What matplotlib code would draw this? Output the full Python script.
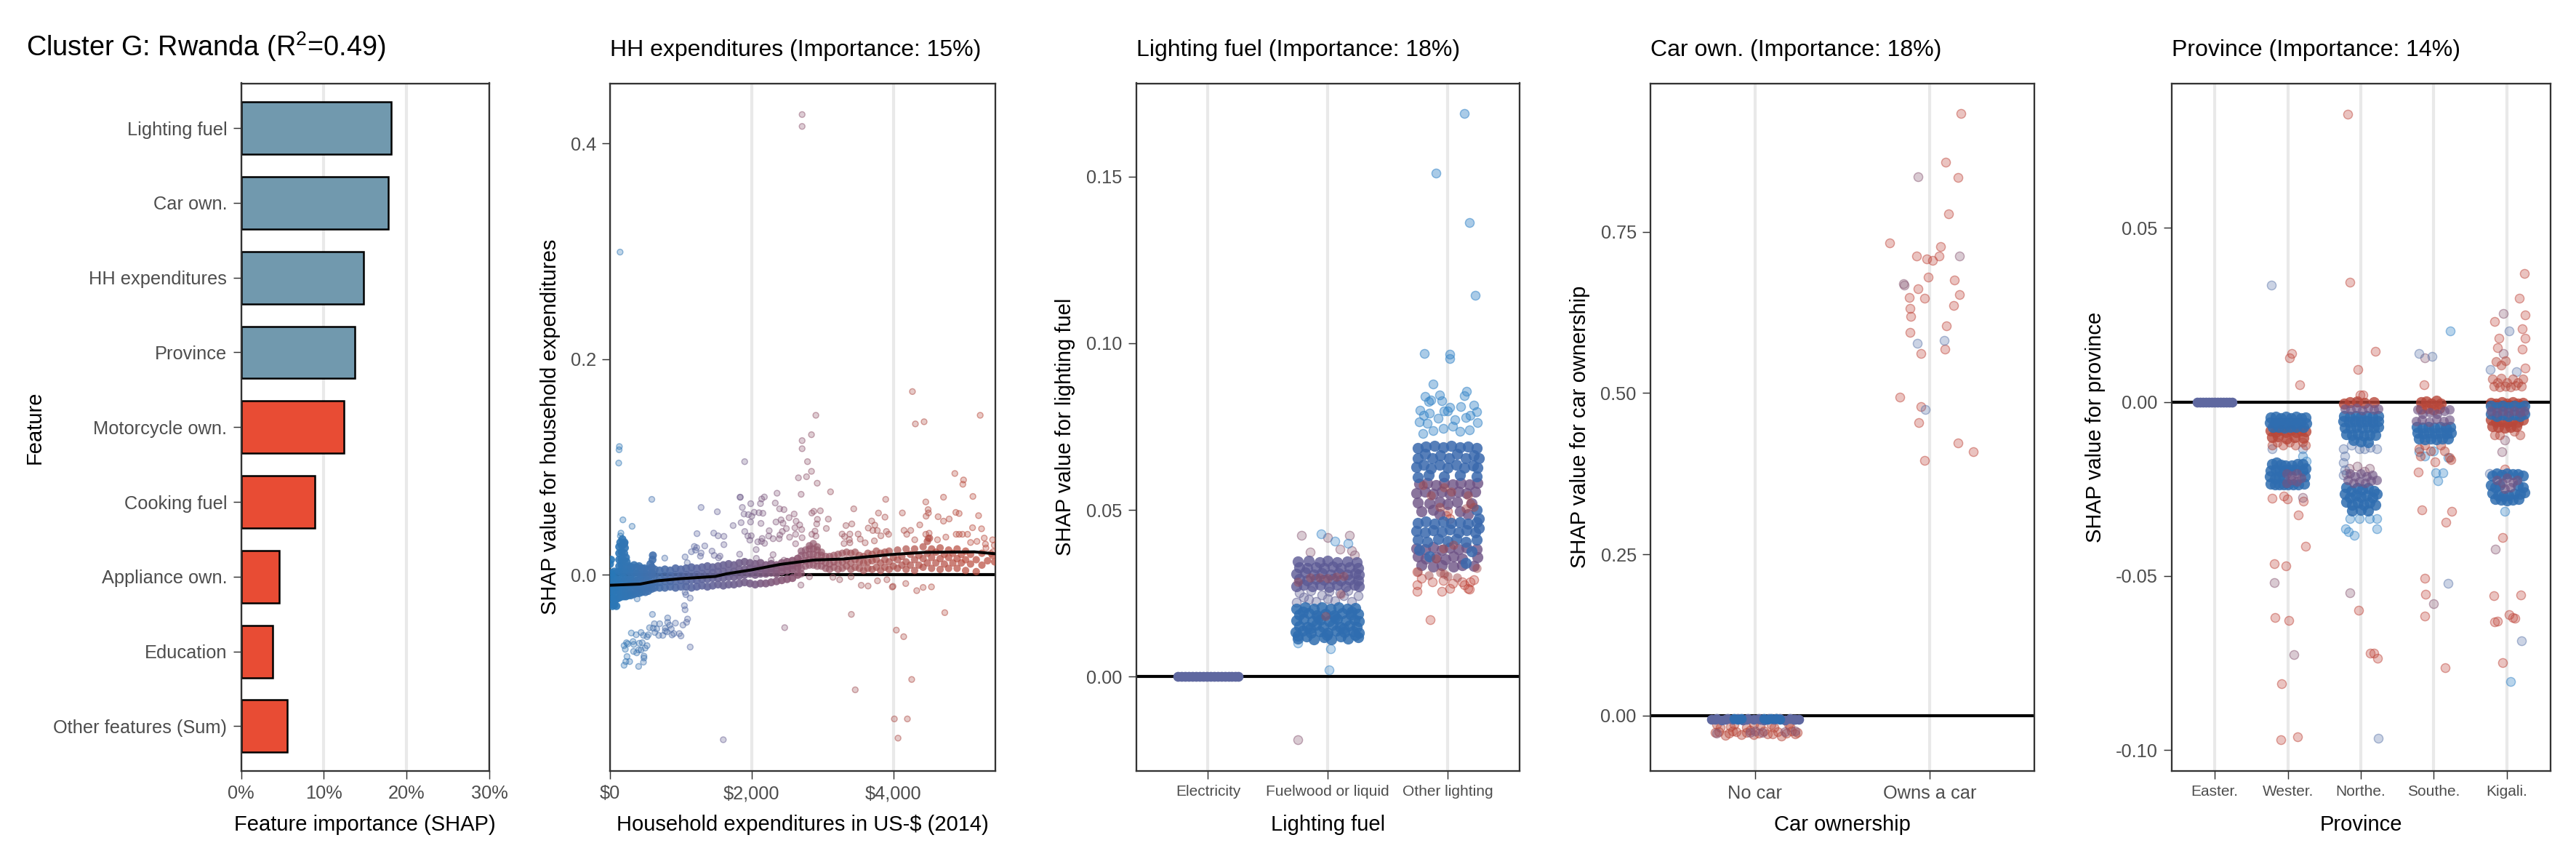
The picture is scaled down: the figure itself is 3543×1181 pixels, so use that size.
import matplotlib
matplotlib.use("Agg")
import matplotlib.pyplot as plt
from matplotlib.colors import LinearSegmentedColormap, to_rgb

plt.rcParams['font.family'] = ['Liberation Sans', 'DejaVu Sans']
plt.rcParams['mathtext.default'] = 'regular'

# ---------- importance bars ----------
features = ["Lighting fuel", "Car own.", "HH expenditures", "Province", "Motorcycle own.",
            "Cooking fuel", "Appliance own.", "Education", "Other features (Sum)"]
importance = [18.15, 17.8, 14.8, 13.75, 12.4, 8.9, 4.6, 3.83, 5.56]
bar_groups = ["top", "top", "top", "top", "rest", "rest", "rest", "rest", "rest"]

# ---------- HH expenditures ----------
smooth_x = [0, 425, 660, 990, 1486, 1651, 2000, 2406, 2877, 3302, 3962, 4434, 5142, 5440]
smooth_y = [-.0097, -.0086, -.0056, -.0036, -.0015, .001, .0046, .0097, .0137, .0147, .0188, .0208, .0213, .0195]

hh_sparse = [
 (2712,.427),(2712,.416),(142,.2994),(132,.119),(128,.116),(123,.1037),(4269,.17),(5226,.148),(2906,.148),
 (4311,.14),(4434,.142),(2712,.1245),(2844,.13),(2712,.117),(2788,.105),(1901,.105),(2844,.096),(2660,.09),
 (2774,.091),(2925,.085),(4868,.094),(4991,.088),(4981,.084),(3113,.077),(2358,.0757),(2698,.0747),(1835,.072),
 (590,.07),(4708,.072),(5123,.0727),(3892,.07),(4458,.0676),(1286,.0625),(1515,.0585),(182,.051),(312,.045),
 (154,.0387),(147,.036),(1228,.0382),(1464,.0387),(1526,.0362),(1608,.0357),(1190,.0263),(1224,.0252),(1338,.0268),
 (1608,.028),(1149,.0214),(1207,.0229),(1286,.0202),(1276,.0173),(1440,.022),(1471,.018),(1553,.0173),(1532,.0157),
 (1060,.0166),(773,.0155),(1091,.0112),(1840,.072),(1868,.0625),(1987,.066),(2124,.0661),(2141,.0704),(2179,.0722),
 (2333,.0666),(2394,.0612),(2456,.0605),(1892,.0564),(1953,.0558),(2001,.0544),(2035,.058),(2104,.0576),(2158,.0571),
 (1738,.0457),(1851,.0484),(1984,.049),(2131,.0477),(1902,.0402),(1946,.036),(1994,.0362),(1974,.0322),(2247,.0409),
 (2240,.036),(2302,.0335),(2388,.0335),(2398,.0369),(2432,.0402),(2490,.0429),(2535,.0349),(2343,.049),(2415,.051),
 (2442,.0479),(2528,.053),(2600,.0564),(2627,.0497),(2678,.0463),(2610,.0436),(2706,.042),(2620,.0376),(2712,.0344),
 (2620,.0288),(2148,.0337),(2086,.0306),(2138,.031),(2182,.0292),(2063,.0234),(1830,.0191),(2066,.0153),(2302,.0187),
 (2275,.0135),(2456,.0135),(2877,.0589),(2849,.0573),(2969,.0594),(2928,.0515),(3082,.0517),(2918,.0472),(2894,.0405),
 (3054,.043),(2849,.0376),(2907,.036),(3441,.0612),(3331,.0457),(3414,.0472),(3277,.0378),(3386,.0378),(3311,.0355),
 (3379,.0326),(3386,.0297),(3304,.029),(3503,.0378),(3533,.0331),(3602,.0297),(3790,.0573),(3694,.0499),(3738,.0461),
 (3646,.0434),(3711,.0411),(3773,.0411),(3824,.0362),(3732,.0315),(3882,.0535),(3902,.0402),(3933,.0376),
 (3407,-.0367),(2466,-.049),(3547,-.0097),(3643,-.0104),(3776,-.0056),(3909,-.0045),(2695,-.0095),(3242,-.0045),
 (3403,-.0018),(3147,-.0023),(2815,-.0018),(3985,-.0113),(3462,-.1067),(4042,-.0513),(4146,-.0574),(4259,-.0971),
 (4014,-.1337),(4198,-.1337),(4066,-.1515),(1599,-.153),(4726,-.0351),(4330,-.0147),(4420,-.0117),(4538,-.0112),
 (4175,-.0081),(3995,-.0107),(4127,.0574),(4462,.0544),(4491,.0605),(4495,.0574),(4632,.0539),(4708,.0498),(4788,.0518),
 (4882,.0579),(4929,.0569),(5203,.0549),(5118,.0437),(5245,.0427),(5283,.0341),(4887,.0376),(4929,.0376),(4976,.0376),
 (5047,.0376),(4245,.0412),(4151,.0412),(4189,.0376),(4302,.0325),(4373,.0463),(4458,.0376),(4505,.0386),(4491,.034),
 (4623,.0325),(4741,.035),(5401,.0325),(5425,.0274),(5307,.0249),(5377,.0198),
 (599,-.0367),(814,-.04),(1095,-.041),(924,-.0448),(814,-.0441),(626,-.0454),(701,-.0454),(842,-.0468),(1081,-.0441),
 (1030,-.0466),(558,-.0491),(780,-.0495),(609,-.0495),(660,-.0502),(865,-.0502),(633,-.0535),(688,-.0562),(746,-.0562),
 (301,-.054),(370,-.0556),(438,-.0535),(472,-.0562),(541,-.0556),(523,-.0574),(780,-.0522),(804,-.0529),(900,-.0545),
 (876,-.0558),(978,-.0545),(1002,-.0567),(1132,-.067),(199,-.0657),(250,-.0641),(233,-.063),(325,-.0619),(335,-.0646),
 (414,-.0635),(455,-.063),(523,-.0657),(216,-.0691),(496,-.068),(332,-.0711),(404,-.0697),(438,-.0697),(377,-.0724),
 (479,-.0754),(240,-.0758),(479,-.0772),(223,-.0805),(277,-.0805),(472,-.081),(199,-.0839),(404,-.085),(383,-.0223),
 (1060,-.0162),(1071,-.0184),(1132,-.0216),(1050,-.0286),(1060,-.0324),(5410,.0215),(5300,.0285),(5180,.031),(5090,.03),
]

rib_x = [630,700,775,850,925,1000,1075,1150,1225,1300,1375,1450,1525,1600,1675,1750,1825,1900,1975,2050,2125,2200,2275,2350,2425,2500,2575,2650]
rib_a = [.005,.004,.005,.004,.006,.005,.006,.007,.006,.007,.008,.007,.008,.009,.010,.009,.011,.012,.011,.010,.011,.009,.010,.009,.011,.012,.013,.015]
rib_b = [-.0005,-.002,-.001,-.001,0,-.001,0,.001,0,.001,.002,.002,.003,.003,.004,.003,.005,.005,.006,.005,.006,.005,.006,.005,.007,.008,.009,.011]
rib_c = [-.007,-.007,-.006,-.006,-.006,-.005,-.006,-.005,-.005,-.004,-.004,-.003,-.003,-.003,-.002,-.002,-.001,0,.001,0,.001,.001,.002,.001,.003,.004,.005,.007]
rib_d = [-.012,-.012,-.012,-.011,-.012,-.011,-.011,-.012,-.011,-.010,-.011,-.010,-.009,-.010,-.009,-.009,-.008,-.007,-.008,-.009,-.008,-.008,-.007,-.006,-.005,-.004,-.003,0]

hh_left = [
 (10,-.027),(35,-.029),(60,-.028),(90,-.029),(15,-.021),(45,-.022),(75,-.023),(105,-.022),(135,-.021),(165,-.02),(195,-.02),
 (10,-.015),(40,-.016),(70,-.015),(100,-.016),(130,-.015),(160,-.016),(190,-.014),(225,-.017),(260,-.016),(295,-.017),(330,-.015),
 (15,-.01),(50,-.009),(85,-.011),(120,-.01),(155,-.009),(190,-.01),(225,-.011),(260,-.01),(295,-.009),(330,-.01),(365,-.011),(400,-.012),
 (10,-.004),(45,-.003),(80,-.004),(115,-.005),(150,-.004),(185,-.003),(220,-.004),(255,-.005),(290,-.004),(325,-.005),(360,-.006),(395,-.005),(430,-.004),(470,-.006),(510,-.005),(550,-.006),(590,-.008),
 (20,.002),(60,.003),(95,.002),(130,.003),(165,.002),(200,.003),(235,.002),(270,.003),(305,.001),(340,.002),(375,.001),(410,.002),(445,.0),(480,.001),(520,.0),(555,-.001),(595,.0),
 (15,.014),(130,.008),(165,.009),(200,.008),(235,.007),(270,.008),(305,.007),(340,.009),(375,.007),(410,.008),(450,.006),(490,.006),(530,.005),(570,.01),(600,.014),(605,.018),(590,.007),(590,.002),
 (130,.014),(165,.014),(200,.013),(235,.012),(130,.02),(165,.021),(200,.02),(225,.016),(130,.026),(170,.027),(210,.025),(145,.03),(200,.029),(175,.033),(205,.03),(-0,.01),(15,-.0),
 (470,-.011),(510,-.012),(550,-.011),(430,-.013),(590,-.013),(540,-.015),(500,-.016),(450,-.016),(410,-.017),(370,-.017),(335,-.018),(295,-.019),(260,-.019),(225,-.02),
]
hh_hump = [
 (2700,.001),(2700,.006),(2700,.012),(2700,.018),(2700,.022),(2760,.008),(2760,.013),(2760,.018),(2760,.023),(2815,.009),(2815,.014),
 (2815,.019),(2815,.024),(2815,.027),(2870,.009),(2870,.014),(2870,.019),(2870,.024),(2870,.029),(2925,.008),(2925,.013),(2925,.018),
 (2925,.023),(2925,.026),(2985,.008),(2985,.013),(2985,.018),(2985,.021),(3045,.006),(3045,.011),(3045,.017),(3100,.005),(3100,.01),(3100,.017),
 (3160,.007),(3160,.012),(3160,.018),(3220,.005),(3220,.011),(3220,.019),(3280,.006),(3280,.012),(3280,.02),(3340,.008),(3340,.014),(3340,.021),
 (3400,.005),(3400,.011),(3400,.02),(3460,.007),(3460,.014),(3460,.021),(3520,.006),(3520,.012),(3520,.018),(3580,.004),(3580,.011),(3580,.017),
 (3640,.006),(3640,.012),(3640,.02),(3700,.005),(3700,.013),(3700,.019),(3760,.007),(3760,.014),(3760,.022),(3820,.004),(3820,.011),(3820,.02),
 (3880,.007),(3880,.014),(3880,.021),(3940,.005),(3940,.012),(3940,.022),(4000,.008),(4000,.016),(4060,.006),(4060,.014),(4060,.023),(4120,.009),
 (4120,.017),(4180,.005),(4180,.012),(4180,.024),(4240,.009),(4240,.019),(4300,.004),(4300,.014),(4300,.024),(4360,.009),(4360,.018),(4420,.007),
 (4420,.015),(4420,.026),(4480,.011),(4480,.02),(4480,.031),(4510,.034),(4540,.006),(4540,.016),(4540,.024),(4600,.011),(4600,.021),(4660,.005),
 (4660,.015),(4660,.025),(4720,.01),(4720,.019),(4780,.006),(4780,.016),(4780,.023),(4840,.011),(4840,.02),(4900,.006),(4900,.015),(4900,.024),
 (4960,.011),(4960,.019),(5020,.004),(5020,.014),(5020,.022),(5090,.01),(5090,.019),(5170,.003),(5170,.014),(5250,.009),(5250,.02),(5330,.013),(5400,.018),(5430,.012),
]

# ---------- lighting fuel ----------
light_labels = ["Electricity", "Fuelwood or liquid", "Other lighting"]
light_zero_x = [.75,.78,.81,.84,.87,.9,.93,.96,.99,1.02,1.05,1.08,1.11,1.14,1.17,1.2,1.23,1.25]
light_zero_y = [0,0,0,0,0,0,0,0,0,0,0,0,0,0,0,0,0,0]

fw_blue = [
 (1.75,.0115),(1.82,.012),(1.88,.0112),(1.97,.0118),(2.03,.0113),(2.11,.012),(2.17,.0114),(2.25,.0118),
 (1.73,.0134),(1.79,.0138),(1.86,.0132),(1.93,.0136),(2.0,.0131),(2.07,.0138),(2.14,.0133),(2.21,.0137),(2.26,.0132),
 (1.76,.0152),(1.83,.0149),(1.9,.0155),(1.96,.015),(2.04,.0156),(2.1,.0149),(2.18,.0154),(2.24,.015),
 (1.74,.0168),(1.8,.0172),(1.87,.0167),(1.94,.0171),(2.01,.0166),(2.08,.0172),(2.15,.0168),(2.22,.0171),(2.26,.0167),
 (1.76,.0186),(1.84,.019),(1.91,.0185),(1.98,.0189),(2.05,.0185),(2.12,.019),(2.19,.0186),(2.25,.0189),
 (1.74,.0204),(1.81,.0207),(1.88,.0203),(1.95,.0208),(2.02,.0204),(2.09,.0207),(2.16,.0203),(2.23,.0206),
 (1.75,.0122),(1.85,.0145),(1.99,.0125),(2.13,.0145),(2.23,.0125),(1.92,.0178),(2.06,.0178),(2.2,.0195),(1.79,.0195),
]
fw_mix = [
 (1.74,.0224),(1.8,.0238),(1.9,.0226),(1.95,.0245),(2.06,.0228),(2.13,.0243),(2.2,.0226),(2.25,.0242),(1.76,.0252),(1.86,.0258),
 (2.01,.0255),(2.1,.0252),(2.17,.0258),(1.84,.0232),(2.0,.0235),
]
fw_red = [(1.93,.0298),(2.0,.0295),(2.07,.03),(1.75,.0285),(1.98,.0182),(2.11,.0248),(1.85,.0298),(2.13,.0302)]
fw_purple = [
 (1.74,.0272),(1.8,.0275),(1.87,.0271),(1.94,.0276),(2.01,.027),(2.08,.0275),(2.15,.0272),(2.22,.0276),(2.26,.0271),
 (1.76,.0292),(1.83,.0288),(1.9,.0293),(1.97,.029),(2.04,.0293),(2.11,.0288),(2.18,.0291),(2.25,.0288),
 (1.74,.0308),(1.81,.0312),(1.88,.0307),(1.95,.0311),(2.02,.0306),(2.09,.0311),(2.16,.0307),(2.23,.0311),(2.26,.0306),
 (1.76,.0328),(1.83,.0325),(1.9,.0329),(1.97,.0325),(2.04,.033),(2.11,.0326),(2.18,.0329),(2.25,.0325),
 (1.75,.0345),(1.84,.0347),(1.93,.0343),(2.0,.0347),(2.08,.0344),(2.16,.0346),(2.24,.0343),
]
fw_sparse_blue = [(1.945,.0429),(2.06,.0406),(2.17,.04),(2.01,.0021),(2.02,.0084),(1.75,.01)]
fw_sparse_mid = [(1.78,.0424),(2.0,.0418),(2.18,.0424),(2.1,.0382),(2.2,.0378),(1.85,.0373),(2.22,.0365),(1.75,-.0189)]

ol_blue_sparse = [
 (3.14,.169),(2.905,.151),(3.18,.1363),(3.23,.1145),(2.805,.097),(3.02,.0967),(3.02,.0955),
 (2.88,.0878),(2.93,.0845),(3.16,.0855),(3.14,.0842),(2.81,.084),(2.86,.083),(2.84,.0825),(2.95,.0827),
 (2.77,.08),(3.22,.0815),(3.24,.0795),(2.8,.0785),(2.85,.079),(3.11,.081),(3.0,.0797),(3.02,.0809),(2.97,.0798),
 (2.76,.0765),(2.83,.076),(2.92,.0775),(3.06,.077),(3.15,.0778),(3.19,.0785),(3.25,.0762),(2.79,.073),(2.88,.0738),
 (2.96,.0745),(3.04,.0752),(3.1,.0735),(3.18,.074),
]
ol_blue = [
 (2.75,.0685),(2.82,.069),(2.89,.0692),(2.96,.0688),(3.03,.0693),(3.1,.0689),(3.17,.0691),(3.24,.0686),
 (2.75,.0655),(2.81,.0668),(2.87,.0655),(2.94,.0665),(3.01,.0655),(3.08,.0668),(3.15,.0656),(3.22,.0665),(3.26,.0655),
 (2.74,.0628),(2.8,.0635),(2.86,.0625),(2.93,.0636),(3.0,.0627),(3.07,.0635),(3.14,.0626),(3.21,.0634),(3.25,.0627),
 (2.75,.0598),(2.84,.0605),(2.97,.06),(3.1,.0606),(3.24,.06),
 (2.75,.046),(2.82,.0465),(2.89,.0458),(2.96,.0465),(3.03,.046),(3.1,.0464),(3.17,.0458),(3.24,.0464),
 (2.74,.0438),(2.81,.0432),(2.88,.044),(2.95,.0434),(3.02,.0441),(3.09,.0433),(3.16,.044),(3.23,.0433),(3.26,.0445),
 (2.75,.041),(2.83,.0405),(2.92,.0412),(3.0,.0406),(3.07,.0412),(3.15,.0404),(3.24,.041),
 (3.26,.0475),(3.24,.05),(2.76,.038),(3.2,.0376),(2.85,.036),(3.15,.034),
]
ol_purple = [
 (2.76,.0578),(2.83,.0582),(2.9,.0575),(2.97,.0582),(3.04,.0576),(3.11,.0581),(3.18,.0577),(3.25,.0582),
 (2.74,.055),(2.81,.0555),(2.88,.0548),(2.95,.0554),(3.02,.0548),(3.09,.0555),(3.16,.055),(3.23,.0554),
 (2.75,.0522),(2.85,.052),(2.93,.0525),(3.0,.0518),(3.08,.0525),(3.2,.052),
 (2.78,.0495),(2.88,.05),(2.93,.0488),(3.1,.0495),(3.17,.0488),
 (2.74,.0385),(2.81,.0382),(2.88,.0388),(2.95,.0381),(3.02,.0387),(3.09,.0382),(3.16,.0387),(3.24,.0383),
 (2.75,.036),(2.82,.0355),(2.9,.0358),(2.98,.0352),(3.05,.036),(3.12,.0355),(3.25,.0358),
 (2.78,.0335),(2.88,.033),(2.95,.0335),(3.05,.033),(3.12,.0335),(3.22,.0332),
]
ol_red = [
 (2.79,.0575),(2.86,.0545),(2.97,.0568),(3.17,.0545),(3.22,.051),(3.15,.0505),(3.19,.052),(2.96,.0385),(3.05,.0395),(2.9,.0355),
 (2.94,.0312),(2.97,.0308),(2.84,.0305),(3.0,.0302),(3.08,.0298),(3.24,.0325),(2.75,.0315),(2.93,.051),(3.03,.0555),
]
ol_pink = [
 (2.745,.0315),(2.78,.0295),(2.87,.0285),(2.96,.0288),(3.04,.028),(3.12,.0285),(3.19,.0285),(3.22,.029),
 (2.745,.0275),(2.745,.0255),(2.95,.0255),(3.02,.0265),(3.17,.0265),(3.18,.0262),(3.14,.0275),(2.855,.0171),
 (3.0,.0495),(3.02,.0475),(2.99,.0482),
]

# ---------- car ownership ----------
car_labels = ["No car", "Owns a car"]
car_band = [(.75,-.0055),(.78,-.0045),(.81,-.0065),(.84,-.0048),(.87,-.006),(.9,-.005),(.93,-.0065),(.96,-.0045),(.99,-.006),
 (1.02,-.005),(1.05,-.0065),(1.08,-.0045),(1.11,-.006),(1.14,-.005),(1.17,-.0065),(1.2,-.0048),(1.23,-.006),(1.25,-.0055),
 (.77,-.006),(.83,-.0055),(.95,-.006),(1.03,-.0055),(1.12,-.005),(1.22,-.0055)]
car_band_blue = [(.88,-.0045),(.9,-.0055),(.92,-.0048),(1.05,-.0045),(1.07,-.0055),(1.09,-.0048),(1.12,-.005),(1.14,-.0055)]
car_low = [
 (.77,-.026),(.79,-.025),(.83,-.031),(.85,-.027),(.87,-.024),(.89,-.025),(.92,-.029),(.95,-.026),(.97,-.023),(.99,-.029),(1.02,-.027),
 (1.05,-.024),(1.07,-.028),(1.1,-.028),(1.13,-.025),(1.15,-.032),(1.18,-.027),(1.21,-.024),(1.23,-.028),(1.24,-.026),
 (.8,-.018),(.86,-.017),(.95,-.018),(1.03,-.016),(1.11,-.018),(1.2,-.017),(.78,-.014),(.88,-.014),(.99,-.014),(1.09,-.014),(1.19,-.014),
]
car_low_mid = [(.78,-.027),(.97,-.026),(1.0,-.024),(1.04,-.026),(1.17,-.025),(1.23,-.024)]
car_pink = [(2.18,.933),(2.09,.858),(2.161,.834),(2.11,.778),(1.769,.733),(2.062,.727),(1.923,.712),(1.982,.708),(2.015,.705),
 (2.053,.712),(1.991,.68),(2.143,.675),(1.932,.661),(2.172,.652),(1.883,.648),(1.969,.647),(2.136,.636),(1.886,.631),(1.89,.619),
 (2.094,.604),(1.886,.594),(2.088,.568),(1.952,.561),(1.831,.494),(1.952,.479),(1.936,.4545),(2.161,.423),(2.25,.409),(1.969,.395)]
car_mid = [(1.932,.835),(2.172,.712),(1.85,.67),(1.853,.667)]
car_lilac = [(1.928,.577),(2.083,.582),(1.974,.474)]

# ---------- province ----------
prov_labels = ["Easter.", "Wester.", "Northe.", "Southe.", "Kigali."]
prov_zero_x = [.76,.8,.84,.88,.92,.96,1.0,1.04,1.08,1.12,1.16,1.2,1.24]
prov_zero_y = [0,0,0,0,0,0,0,0,0,0,0,0,0]

prov_pink = [
 (2.159,.005),(1.788,-.0277),(1.947,-.0271),(1.99,-.0279),(2.216,-.0286),(2.146,-.0324),(2.238,-.0415),(1.819,-.0464),(1.969,-.047),
 (1.828,-.062),(2.009,-.0628),(1.916,-.0809),(1.907,-.0971),(2.137,-.0962),(2.057,.014),(2.026,.0127),
 (2.819,.0826),(2.85,.0343),(3.199,.0146),(2.96,.0094),(2.974,-.0598),(3.128,-.0721),(3.177,-.0721),(3.234,-.0737),(3.03,.002),(2.987,.002),
 (3.868,.0049),(3.784,-.0201),(4.013,-.0173),(3.837,-.031),(4.247,-.0315),(4.163,-.0345),(3.876,-.0507),(3.89,-.0552),(3.876,-.0615),(4.155,-.0763),
 (5.238,.0368),(5.172,.0297),(4.828,.0231),(5.247,.025),(5.207,.0209),(4.894,.0183),(5.247,.0183),(4.876,.0156),(5.216,.0151),(5.252,.0098),
 (4.974,-.0194),(4.938,-.039),(4.819,-.0557),(5.19,-.0554),(4.832,-.0631),(4.872,-.063),(5.035,-.0611),(5.084,-.062),(5.11,-.0622),(4.943,-.0749),
]
prov_mid = [
 (2.2,-.0275),(1.819,-.0518),(2.088,-.0726),(2.85,-.0549),(3.996,-.0579),(4.956,.0253),(4.956,.014),(4.845,-.0422),
 (4.93,-.0142),(4.974,-.011),(3.876,.0127),(2.95,.0),(2.8,-.0205),(2.84,-.019),(3.12,-.019),(2.95,-.0185),(3.05,-.02),
]
prov_lilac = [
 (1.77,.0335),(3.238,-.0965),(3.801,.0138),(3.978,.0131),(4.199,-.0522),(5.031,.0203),(4.775,.0094),(5.13,.0087),(5.199,-.0686),
 (2.76,-.0135),(2.78,-.0155),(2.87,-.0125),(2.98,-.0135),(3.05,-.0135),(3.13,-.013),(3.22,-.0135),(2.76,-.0175),(2.78,-.0195),(2.76,-.021),
 (4.76,-.0205),(2.2,-.0135),(1.78,-.0135),(4.85,-.0005),
]
prov_blue_light = [
 (4.225,.0203),(4.022,-.0203),(4.124,-.0203),(4.057,-.0227),(2.788,-.0365),(2.832,-.0373),(2.912,-.0384),(3.22,-.0365),(4.974,-.0315),(5.057,-.0803),
 (2.85,-.0335),(2.98,-.0335),(3.12,-.0335),(3.22,-.0335),(3.8,-.0143),(3.88,-.0155),(4.0,-.014),(4.2,-.016),(2.2,-.0155),(2.25,-.017),
]
prov_red_sparse = [
 (1.78,-.0125),(1.85,-.0115),(1.93,-.0125),(2.02,-.0115),(2.1,-.0125),(2.2,-.0115),(2.24,-.0125),
 (3.8,-.0135),(3.88,-.0125),(3.96,-.014),(4.1,-.0125),(4.15,-.014),(4.22,-.016),(4.24,-.0165),(3.82,-.0155),
 (4.8,.0065),(4.87,.0055),(4.92,.0068),(5.0,.0055),(5.08,.0066),(5.15,.0056),(5.22,.0065),(4.82,.0045),(4.9,.0042),(4.98,.0045),(5.05,.0042),(5.12,.0048),(5.2,.0045),
 (4.85,.0115),(4.92,.0105),(4.98,.0118),(4.83,-.0095),(4.9,-.0095),(5.1,-.0085),(5.18,-.0095),
]
prov_red = [
 (1.76,-.0082),(1.83,-.0086),(1.9,-.0081),(1.97,-.0086),(2.04,-.0081),(2.11,-.0086),(2.18,-.0082),(2.24,-.0085),
 (1.78,-.0102),(1.86,-.01),(1.98,-.0105),(2.09,-.0102),(2.21,-.0104),
 (3.83,-.0002),(3.9,.0002),(3.97,-.0005),(4.04,.0003),(4.1,-.0006),(3.83,-.002),(3.92,-.0018),(4.0,-.0022),(4.08,-.0018),
 (4.78,-.0004),(4.85,-.0006),(4.93,-.0002),(5.0,-.0006),(5.08,-.0002),(5.15,-.0005),(5.22,-.0003),
 (4.78,-.0052),(4.85,-.0058),(4.92,-.0055),(5.0,-.006),(5.07,-.0055),(5.15,-.0058),(5.22,-.0052),(4.8,-.007),(4.88,-.0072),(4.97,-.0074),(5.05,-.0072),(5.13,-.007),
 (2.85,-.0002),(2.95,.0001),(3.05,-.0003),(3.18,-.0001),(2.77,-.0005),
]
prov_purple = [
 (1.98,-.0205),(2.05,-.0212),(2.12,-.0205),(2.05,-.0225),(2.12,-.0228),(1.98,-.0232),(2.18,-.0218),
 (2.78,-.002),(2.86,-.0022),(2.94,-.0018),(3.02,-.0023),(3.1,-.0018),(3.18,-.0022),(3.24,-.002),
 (2.85,-.0205),(2.92,-.0215),(3.0,-.0205),(3.08,-.0215),(3.16,-.021),(2.82,-.0225),(2.9,-.0232),(2.98,-.0228),(3.06,-.0232),(3.14,-.0226),(3.22,-.0225),
 (3.78,-.0022),(3.85,-.0035),(3.95,-.003),(4.05,-.0035),(4.15,-.0025),(4.22,-.0022),(3.76,-.0055),(3.84,-.0052),(3.94,-.0058),(4.04,-.005),(4.14,-.0056),(4.22,-.0052),
 (4.78,-.0025),(4.86,-.003),(4.94,-.0025),(5.02,-.003),(5.1,-.0025),(5.18,-.003),(5.24,-.0025),
 (4.86,-.0225),(4.94,-.0232),(5.0,-.0218),(5.08,-.023),(5.14,-.0225),(4.97,-.025),(5.05,-.0245),
]
prov_blue = [
 (1.76,-.0045),(1.83,-.0043),(1.9,-.0046),(1.97,-.0043),(2.04,-.0046),(2.11,-.0043),(2.18,-.0046),(2.24,-.0045),
 (1.75,-.006),(1.82,-.0062),(1.89,-.006),(1.96,-.0062),(2.03,-.006),(2.1,-.0062),(2.17,-.006),(2.25,-.0061),
 (1.79,-.0072),(1.87,-.0072),(1.95,-.0074),(2.03,-.0072),(2.11,-.0072),(2.21,-.0072),
 (1.78,-.0178),(1.84,-.0175),(1.9,-.018),(1.96,-.0182),(2.05,-.0182),(2.13,-.0178),(2.2,-.0178),
 (1.76,-.0198),(1.83,-.0195),(1.89,-.02),(1.95,-.0197),(2.03,-.0195),(2.1,-.0196),(2.2,-.0198),(2.24,-.0192),
 (1.75,-.0215),(1.82,-.022),(1.88,-.0215),(1.94,-.0218),(2.23,-.0215),(1.76,-.0235),(1.82,-.0238),(1.88,-.0236),(1.94,-.0238),(2.0,-.0238),(2.07,-.0238),(2.14,-.0238),(2.22,-.0235),
 (2.77,-.004),(2.85,-.0042),(2.93,-.004),(3.0,-.0042),(3.08,-.004),(3.16,-.0042),(3.24,-.004),
 (2.76,-.0056),(2.84,-.0058),(2.92,-.0056),(3.0,-.0058),(3.08,-.0056),(3.16,-.0058),(3.24,-.0056),
 (2.78,-.0074),(2.86,-.0075),(2.94,-.0072),(3.02,-.0075),(3.1,-.0072),(3.18,-.0075),(3.24,-.0073),
 (2.8,-.0092),(2.88,-.0095),(2.96,-.0093),(3.04,-.0096),(3.12,-.0094),(3.2,-.0095),(2.9,-.011),(3.0,-.0113),(3.1,-.0115),
 (2.8,-.0245),(2.87,-.0255),(2.95,-.0248),(3.02,-.0252),(3.1,-.0248),(3.18,-.0255),(2.78,-.0265),(2.85,-.0275),(2.93,-.0268),(3.0,-.0272),(3.08,-.0268),(3.16,-.0275),(3.22,-.0265),
 (2.8,-.0288),(2.88,-.0295),(2.96,-.029),(3.04,-.0295),(3.12,-.029),(3.2,-.0295),(2.88,-.0312),(3.0,-.031),(3.1,-.0312),
 (3.77,-.0072),(3.85,-.0075),(3.93,-.0072),(4.01,-.0075),(4.09,-.0072),(4.17,-.0075),(4.23,-.0072),
 (3.78,-.0088),(3.86,-.009),(3.94,-.0088),(4.02,-.009),(4.1,-.0088),(4.18,-.009),(4.24,-.0088),
 (3.8,-.0105),(3.88,-.0108),(3.96,-.0105),(4.04,-.0108),(4.12,-.0105),(4.2,-.0105),
 (4.78,-.0012),(4.86,-.0015),(4.94,-.0012),(5.02,-.0015),(5.1,-.0012),(5.18,-.0015),(5.24,-.0012),
 (4.78,-.0035),(4.86,-.004),(4.94,-.0036),(5.02,-.004),(5.1,-.0036),(5.18,-.004),(5.24,-.0035),
 (4.8,-.0212),(4.86,-.0205),(4.93,-.021),(5.0,-.0205),(5.08,-.0208),(5.15,-.0207),(5.22,-.0212),
 (4.78,-.024),(4.84,-.0245),(4.9,-.024),(5.15,-.024),(5.22,-.0245),(4.8,-.0262),(4.88,-.0268),(4.95,-.027),(5.02,-.0268),(5.1,-.0265),(5.18,-.0265),(5.24,-.026),
 (4.84,-.0278),(4.92,-.028),(5.0,-.0282),(5.08,-.028),(5.16,-.0278),
]

# ---------- drawing ----------
W, H, DPI = 3543, 1181, 300
fig = plt.figure(figsize=(W / DPI, H / DPI), dpi=DPI, facecolor="white")
BLUE, LIGHTBLUE, LILAC, PURPLE, MID, WINE, RED, PINK = (
    "#2f6db0", "#3585c8", "#5f78ab", "#5f5f9c", "#8a5a75", "#8f4f66", "#b8473a", "#c0473c")
GREY = "#4d4d4d"


def panel(l, r):
    ax = fig.add_axes([l / W, 1 - 1060 / H, (r - l) / W, (1060 - 114.5) / H])
    for s in ax.spines.values():
        s.set_linewidth(0.55)
        s.set_color("#333333")
    ax.tick_params(length=2.6, width=0.35, color="#333333", labelcolor=GREY, labelsize=6.1, pad=2.0)
    ax.grid(axis="x", color="#e9e9e9", lw=1.0, zorder=0)
    ax.set_axisbelow(True)
    return ax


def label(ax, xtxt, ytxt, ypx, l, r):
    ax.set_xlabel(xtxt, fontsize=7, color="black", labelpad=0)
    ax.xaxis.set_label_coords(0.5, -(1134 - 1060) / (1060 - 114.5))
    ax.xaxis.label.set_va("center")
    ax.set_ylabel(ytxt, fontsize=7, color="black")
    ax.yaxis.set_label_coords((ypx - l) / (r - l), 0.5)
    ax.yaxis.label.set_va("center")


def dots(ax, pairs, color, s=8.5, fill=.32, edge=.5, z=3):
    xs, ys = zip(*pairs)
    r, g, b = to_rgb(color)
    ax.scatter(xs, ys, s=s, facecolors=[(r, g, b, fill)], edgecolors=[(r, g, b, edge)], linewidths=.35, zorder=z)


def dense(ax, pairs, color, fill=.8, z=3.1, s=13.5):
    xs, ys = zip(*pairs)
    ax.scatter(xs, ys, s=s, color=color, alpha=fill, linewidths=0, zorder=z)


# panel 1
L, R = 331.5, 673
ax = panel(L, R)
yy = list(range(len(features)))[::-1]
cols = ["#7199ae" if g == "top" else "#e84c34" for g in bar_groups]
ax.barh(yy, importance, height=.7, color=cols, edgecolor="black", linewidth=.6, zorder=2)
ax.set_xlim(0, 30)
ax.set_ylim(-.6, 8.6)
ax.set_yticks(yy)
ax.set_yticklabels(features)
ax.set_xticks([0, 10, 20, 30])
ax.set_xticklabels(["0%", "10%", "20%", "30%"])
label(ax, "Feature importance (SHAP)", "Feature", 48, L, R)
fig.text(36 / W, 1 - 77 / H, "Cluster G: Rwanda (R$^{2}$=0.49)", fontsize=9.1, color="black", va="baseline")


def title(ax, t):
    ax.set_title(t, loc="left", fontsize=7.7, color="black", pad=8.9)


# panel 2
L, R = 839, 1369
ax = panel(L, R)
cmap = LinearSegmentedColormap.from_list("exp", ["#2878b8", "#5f68a0", "#8a5a78", "#a8504e", "#b84a3c"])
ax.axhline(0, color="black", lw=1.0, zorder=1.5)


def hh(pairs, fill, edge, z, s=3.6, lw=.35):
    xs, ys = zip(*pairs)
    cs = [cmap(min(x, 5000) / 5000) for x in xs]
    fc = [(c[0], c[1], c[2], fill) for c in cs]
    ec = [(c[0], c[1], c[2], edge) for c in cs]
    ax.scatter(xs, ys, s=s, facecolors=fc, edgecolors=ec, linewidths=lw, zorder=z)


hh(hh_sparse, .3, .5, 3)
hh(hh_left, .9, .9, 3.1, s=7, lw=0)
for col in (rib_a, rib_b, rib_c, rib_d):
    hh(list(zip(rib_x, col)), .9, .9, 3.1, s=7, lw=0)
hh(hh_hump, .7, .7, 3.1, s=6, lw=0)
ax.plot(smooth_x, smooth_y, color="black", lw=.95, zorder=5)
ax.set_xlim(0, 5440)
ax.set_ylim(-.182, .456)
ax.set_xticks([0, 2000, 4000])
ax.set_xticklabels(["\\$0", "\\$2,000", "\\$4,000"])
ax.set_yticks([0, .2, .4])
ax.set_yticklabels(["0.0", "0.2", "0.4"])
label(ax, "Household expenditures in US-\\$ (2014)", "SHAP value for household expenditures", 757, L, R)
title(ax, "HH expenditures (Importance: 15%)")

# panel 3
L, R = 1562.6, 2090
ax = panel(L, R)
ax.axhline(0, color="black", lw=1.0, zorder=2)
dots(ax, list(zip(light_zero_x, light_zero_y)), "#5f68a0", fill=1, edge=1, z=4)
dots(ax, fw_sparse_mid, MID)
dots(ax, fw_sparse_blue, LIGHTBLUE)
dots(ax, fw_mix, "#6f6f9f", fill=.4, edge=.6)
dense(ax, fw_blue, BLUE, fill=.85)
dense(ax, fw_purple, "#5c5a95", fill=.8)
dense(ax, fw_red, "#9a4a55", fill=.45, z=3.2, s=9)
dots(ax, ol_pink, PINK)
dots(ax, ol_blue_sparse, LIGHTBLUE, fill=.42, edge=.55)
dense(ax, ol_purple, "#6d5285", fill=.8)
dense(ax, ol_blue, "#3a69ad", fill=.85, z=3.15)
dense(ax, ol_red, "#a34a4c", fill=.5, z=3.2, s=9)
ax.set_xlim(.4, 3.6)
ax.set_ylim(-.0283, .178)
ax.set_xticks([1, 2, 3])
ax.set_xticklabels(light_labels, fontsize=5)
ax.set_yticks([0, .05, .1, .15])
ax.set_yticklabels(["0.00", "0.05", "0.10", "0.15"])
label(ax, "Lighting fuel", "SHAP value for lighting fuel", 1465, L, R)
title(ax, "Lighting fuel (Importance: 18%)")

# panel 4
L, R = 2270, 2798
ax = panel(L, R)
ax.axhline(0, color="black", lw=1.0, zorder=2)
dots(ax, car_low, RED, fill=.4, edge=.5)
dots(ax, car_low_mid, MID, fill=.5, edge=.5)
dots(ax, car_band, "#5f68a0", fill=1, edge=1, z=4)
dots(ax, car_band_blue, BLUE, fill=1, edge=1, z=4.1)
dots(ax, car_pink, PINK)
dots(ax, car_mid, MID)
dots(ax, car_lilac, LILAC)
ax.set_xlim(.4, 2.6)
ax.set_ylim(-.0858, .98)
ax.set_xticks([1, 2])
ax.set_xticklabels(car_labels)
ax.set_yticks([0, .25, .5, .75])
ax.set_yticklabels(["0.00", "0.25", "0.50", "0.75"])
label(ax, "Car ownership", "SHAP value for car ownership", 2173, L, R)
title(ax, "Car own. (Importance: 18%)")

# panel 5
L, R = 2987, 3508
ax = panel(L, R)
ax.axhline(0, color="black", lw=1.0, zorder=2)
dots(ax, list(zip(prov_zero_x, prov_zero_y)), "#5f68a0", fill=1, edge=1, z=4)
dots(ax, prov_pink, PINK)
dots(ax, prov_mid, MID)
dots(ax, prov_lilac, LILAC)
dots(ax, prov_blue_light, LIGHTBLUE, fill=.35)
dots(ax, prov_red_sparse, RED, fill=.42, edge=.45)
dense(ax, prov_red, RED, fill=.8, z=3.1)
dense(ax, prov_blue, BLUE, fill=.85, z=3.2)
dense(ax, prov_purple, "#6f5585", fill=.65, z=3.3, s=10)
ax.set_xlim(.41, 5.6)
ax.set_ylim(-.106, .0915)
ax.set_xticks([1, 2, 3, 4, 5])
ax.set_xticklabels(prov_labels, fontsize=5)
ax.set_yticks([-.1, -.05, 0, .05])
ax.set_yticklabels(["-0.10", "-0.05", "0.00", "0.05"])
label(ax, "Province", "SHAP value for province", 2882, L, R)
title(ax, "Province (Importance: 14%)")

fig.savefig("out.png", dpi=DPI, facecolor="white")
